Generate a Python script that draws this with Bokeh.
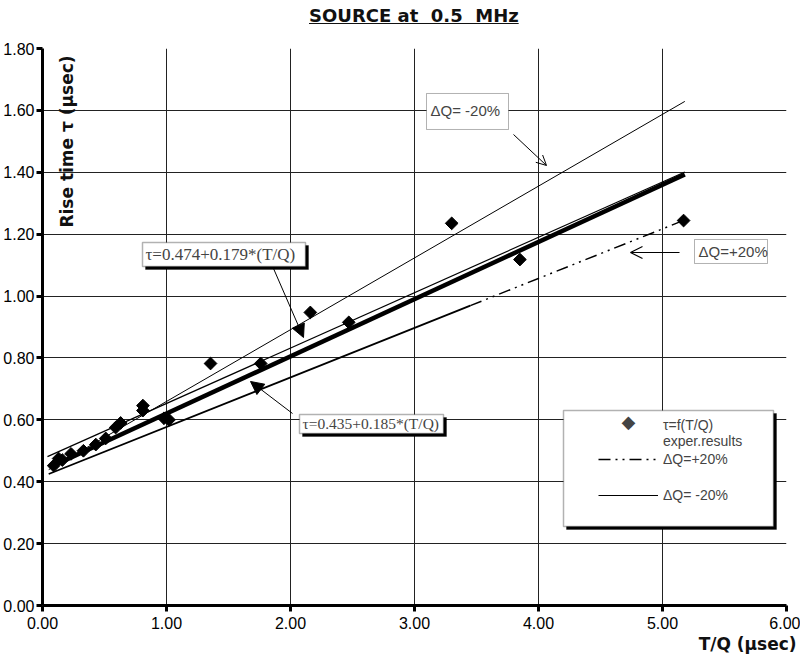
import numpy as np
from bokeh.plotting import figure
from bokeh.layouts import column
from bokeh.models import (Range1d, FixedTicker, NumeralTickFormatter, Label, BoxAnnotation,
                          Arrow, OpenHead, NormalHead, Legend, LegendItem, Title, Div)
from bokeh.embed import file_html
from bokeh.resources import INLINE

# ---------------- data ----------------
tq = [0.09, 0.13, 0.16, 0.23, 0.33, 0.43, 0.51, 0.59, 0.63, 0.81, 0.81, 0.98, 1.02,
      1.355, 1.76, 2.16, 2.47, 3.30, 3.85, 5.17]
tau = [0.452, 0.475, 0.47, 0.49, 0.50, 0.52, 0.54, 0.575, 0.59, 0.646, 0.63, 0.605, 0.60,
       0.782, 0.782, 0.947, 0.915, 1.235, 1.118, 1.244]

fit_a_x = [0.10, 5.18]          # tau = 0.435 + 0.185*(T/Q)  (thick)
fit_a_y = [0.454, 1.393]
fit_b_x = [0.04, 5.18]          # tau = 0.474 + 0.179*(T/Q)
fit_b_y = [0.481, 1.401]
dqm_x = [0.05, 5.18]            # dQ = -20 %
dqm_y = [0.439, 1.629]
dqp_solid_x = [0.05, 3.45]      # dQ = +20 % (solid part)
dqp_solid_y = [0.425, 0.969]
dqp_dash_x = [3.45, 5.18]       # dQ = +20 % (dash-dot part)
dqp_dash_y = [0.969, 1.246]

x_ticks = [0, 1, 2, 3, 4, 5, 6]
y_ticks = [0.0, 0.2, 0.4, 0.6, 0.8, 1.0, 1.2, 1.4, 1.6, 1.8]

SANS = "Liberation Sans"
BOLD = "DejaVu Sans"
SERIF = "Liberation Serif"

# reference-pixel -> data helpers for annotation placement
def px2x(px):
    return (px - 42) / 124.0

def px2y(py):
    return (605 - py) / 309.44

title = Div(text='<div style="margin-left:309px;margin-top:5px;font-family:\'DejaVu Sans\';'
                 'font-size:18px;font-weight:bold;line-height:22px;white-space:pre;color:#111;">'
                 '<span style="text-decoration:underline;">SOURCE at  0.5  MHz</span></div>',
            width=800, height=40, margin=(0, 0, 0, 0))

p = figure(width=800, height=618, output_backend="svg", toolbar_location=None,
           x_range=Range1d(0, 6), y_range=Range1d(0, 1.8),
           min_border_left=42, min_border_right=14, min_border_top=8, min_border_bottom=53,
           margin=(0, 0, 0, 0))
p.outline_line_color = None
p.background_fill_color = "white"

for ax, tk in ((p.xaxis, x_ticks), (p.yaxis, y_ticks)):
    ax.ticker = FixedTicker(ticks=tk)
    ax.formatter = NumeralTickFormatter(format="0.00")
    ax.axis_line_width = 3
    ax.axis_line_color = "black"
    ax.major_tick_line_width = 3
    ax.major_tick_out = 6
    ax.major_tick_in = 0
    ax.minor_tick_line_color = None
    ax.major_label_text_font = SANS
    ax.major_label_text_font_size = "16px"
    ax.major_label_text_color = "black"
p.xaxis.major_label_standoff = 5
p.yaxis.major_label_standoff = 2

p.xgrid.ticker = FixedTicker(ticks=x_ticks)
p.ygrid.ticker = FixedTicker(ticks=y_ticks)
for g in (p.xgrid, p.ygrid):
    g.grid_line_color = "#222222"
    g.grid_line_width = 1

# x axis title (bottom right)
p.add_layout(Title(text="T/Q  (µsec)", align="right", offset=-16, standoff=0,
                   text_font=BOLD, text_font_size="17px", text_font_style="bold",
                   text_color="#111111"), "below")

# lines
r_dqm = p.line(dqm_x, dqm_y, line_color="black", line_width=1)
p.line(dqp_solid_x, dqp_solid_y, line_color="black", line_width=1.8)
r_dqp = p.line(dqp_dash_x, dqp_dash_y, line_color="black", line_width=1.5,
               line_dash="12 5 2 5 2 5")
p.line(fit_b_x, fit_b_y, line_color="black", line_width=1.2)
p.line(fit_a_x, fit_a_y, line_color="black", line_width=4.5)
r_pts = p.scatter(tq, tau, marker="square", angle=np.pi / 4, size=9,
                  fill_color="black", line_color="black")
r_blank = p.line([], [], line_alpha=0)

# y axis title (inside the frame, next to the axis)
p.add_layout(Label(x=px2x(66), y=px2y(141), text="Rise time τ (µsec)", angle=np.pi / 2,
                   text_align="center", text_baseline="middle", text_font=BOLD,
                   text_font_size="17px", text_font_style="bold", text_color="#111111"))

def boxed(l, t, r, b, shadow, lw):
    if shadow:
        p.add_layout(BoxAnnotation(left=px2x(l + 3), right=px2x(r + 3), top=px2y(t + 3),
                                   bottom=px2y(b + 3), fill_color="black", fill_alpha=1,
                                   line_color="black"))
    p.add_layout(BoxAnnotation(left=px2x(l), right=px2x(r), top=px2y(t), bottom=px2y(b),
                               fill_color="white", fill_alpha=1, line_color="black",
                               line_width=lw))

# annotation boxes
boxed(142, 242, 305, 266, True, 1.5)
p.add_layout(Label(x=px2x(145), y=px2y(254), text="τ=0.474+0.179*(T/Q)", text_align="left",
                   text_baseline="middle", text_font=SERIF, text_font_size="17px"))
boxed(299, 414, 443, 433, True, 1.5)
p.add_layout(Label(x=px2x(302), y=px2y(423.5), text="τ=0.435+0.185*(T/Q)", text_align="left",
                   text_baseline="middle", text_font=SERIF, text_font_size="15.5px"))
boxed(426, 93, 508, 129, False, 1)
p.add_layout(Label(x=px2x(430), y=px2y(110), text="ΔQ= -20%", text_align="left",
                   text_baseline="middle", text_font=SANS, text_font_size="15px"))
boxed(694, 239, 767, 263, False, 1)
p.add_layout(Label(x=px2x(698), y=px2y(251), text="ΔQ=+20%", text_align="left",
                   text_baseline="middle", text_font=SANS, text_font_size="15px"))

# arrows
p.add_layout(Arrow(end=OpenHead(size=10, line_width=1), x_start=px2x(513), y_start=px2y(134),
                   x_end=px2x(546), y_end=px2y(165), line_width=1))
p.add_layout(Arrow(end=OpenHead(size=12, line_width=1.2), x_start=px2x(679), y_start=px2y(252),
                   x_end=px2x(630), y_end=px2y(252), line_width=1.2))
p.add_layout(Arrow(end=NormalHead(size=13, fill_color="black", line_color="black"),
                   x_start=px2x(273), y_start=px2y(268), x_end=px2x(303), y_end=px2y(337),
                   line_width=1))
p.add_layout(Arrow(end=NormalHead(size=13, fill_color="black", line_color="black"),
                   x_start=px2x(292), y_start=px2y(413), x_end=px2x(250), y_end=px2y(381),
                   line_width=1))

# legend box
boxed(563, 410, 773, 526, True, 1.5)
legend = Legend(items=[
    LegendItem(label="τ=f(T/Q)\nexper.results", renderers=[r_blank]),
    LegendItem(label="ΔQ=+20%", renderers=[r_dqp]),
    LegendItem(label=" ", renderers=[r_blank]),
    LegendItem(label="ΔQ= -20%", renderers=[r_dqm]),
], location=(556, 102), padding=0, margin=0, spacing=2, glyph_width=60, glyph_height=16,
    label_standoff=5, label_height=16, label_text_font=SANS, label_text_font_size="14px",
    border_line_color=None, background_fill_alpha=0)
p.add_layout(legend)
# legend marker for the experimental points
p.add_layout(Label(x=px2x(628), y=px2y(421), text="◆", text_align="center",
                   text_baseline="middle", text_font="DejaVu Sans", text_font_size="18px"))

open("out.html", "w").write(file_html(column(title, p, spacing=0), INLINE))
